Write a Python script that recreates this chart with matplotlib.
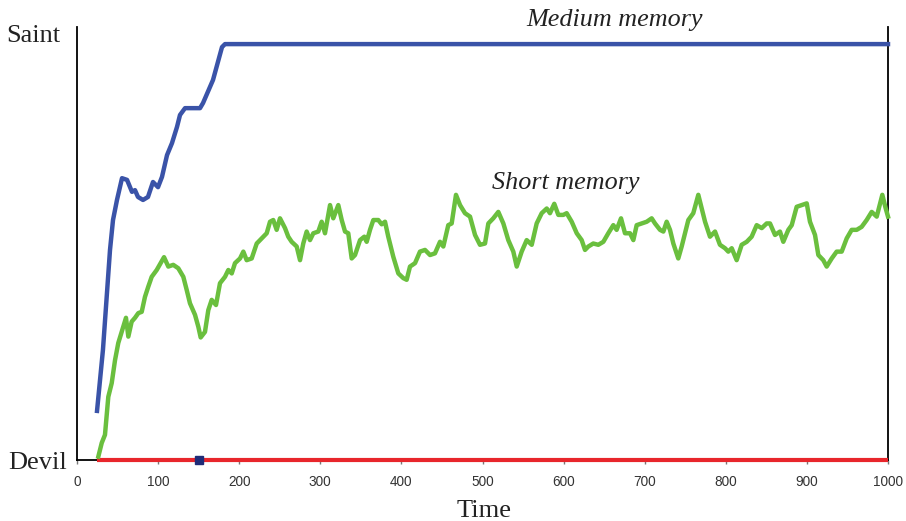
import matplotlib
matplotlib.use("Agg")
import matplotlib.pyplot as plt

# ---- data (y scale: Devil = 0, Saint = 100) ----
medium_t = [24.7, 32, 40.7, 44.4, 49.3, 55.5, 61.7, 67.8, 71.5, 75.2, 81.4, 87.5, 93.7,
            99.9, 104.8, 111, 117.1, 123.3, 127, 133.2, 151.7, 155.4, 167.7, 178.8, 182.5, 1000]
medium_y = [11.5, 25.8, 49.2, 56.2, 60.9, 66.0, 65.6, 62.8, 63.2, 61.6, 60.9, 61.6, 65.1,
            63.9, 66.3, 71.4, 74.2, 78.0, 80.8, 82.4, 82.4, 83.6, 89.0, 96.7, 97.4, 97.4]

short_t = [26.3, 30.5, 34.5, 38.6, 42.8, 46.9, 50.9, 57.1, 60.4, 63.3, 67.4, 71.5, 75.6, 79.8,
           83.8, 87.9, 92.1, 98.3, 107.3, 112.6, 118.7, 124.9, 131.1, 135.3, 139.3, 145.5,
           149.6, 152.5, 157.8, 161.9, 166.1, 171.4, 176.3, 182.5, 186.6, 190.8, 194.8, 201.0,
           205.1, 209.2, 215.4, 221.6, 227.7, 233.9, 238.0, 242.0, 246.2, 250.3, 256.5, 260.5,
           264.7, 270.9, 275.0, 279.0, 283.2, 287.3, 291.4, 297.5, 301.7, 305.8, 312.0, 316.0,
           322.2, 326.4, 330.5, 334.5, 338.7, 342.8, 349.0, 354.3, 357.2, 361.3, 365.4, 371.5,
           375.7, 379.8, 383.8, 390.0, 396.2, 402.3, 406.5, 410.6, 416.8, 422.9, 429.1, 435.3,
           441.4, 447.6, 451.7, 457.8, 462.0, 467.3, 472.3, 478.4, 484.6, 490.8, 496.9, 503.1,
           507.2, 513.3, 519.5, 525.7, 531.8, 538.0, 542.2, 548.3, 554.5, 560.7, 566.8, 573.0,
           579.2, 583.2, 588.5, 593.5, 599.6, 603.8, 610.0, 616.2, 622.3, 626.4, 630.5, 636.6,
           642.8, 649.0, 655.1, 661.3, 665.4, 670.8, 675.7, 681.9, 686.0, 690.1, 696.3, 702.5,
           708.6, 712.7, 718.9, 723.0, 727.1, 731.2, 735.3, 741.4, 745.6, 749.7, 753.8, 759.9,
           766.1, 770.3, 774.4, 780.5, 786.7, 792.8, 799.0, 803.1, 807.3, 813.4, 819.6, 825.8,
           831.9, 838.1, 844.3, 850.4, 854.5, 860.7, 866.8, 870.9, 877.1, 881.3, 887.4, 893.6,
           899.8, 903.8, 910.0, 914.1, 920.2, 924.4, 930.6, 936.7, 942.9, 949.1, 955.2, 961.4,
           967.5, 973.7, 979.9, 986.1, 993.0, 997.2, 1000]
short_y = [0.8, 4.0, 5.9, 14.8, 18.0, 23.4, 27.4, 31.2, 33.3, 28.9, 32.4, 33.3, 34.4, 34.7,
           38.2, 40.6, 42.9, 44.5, 47.5, 45.3, 45.7, 44.9, 42.9, 39.8, 36.7, 34.0,
           31.2, 28.7, 30.0, 35.1, 37.5, 36.3, 41.4, 42.9, 44.5, 43.7, 46.1, 47.2,
           48.8, 46.8, 47.2, 50.7, 51.9, 53.1, 55.8, 56.2, 53.9, 56.6, 54.3, 52.3,
           51.1, 50.0, 46.8, 50.7, 53.5, 51.5, 53.1, 53.5, 55.8, 53.1, 59.7, 56.6,
           59.7, 56.2, 53.5, 53.1, 47.2, 48.0, 51.5, 52.3, 51.1, 53.9, 56.2, 56.2,
           55.2, 55.8, 52.3, 47.6, 43.7, 42.6, 42.2, 45.3, 46.1, 48.8, 49.2, 48.0,
           48.4, 51.1, 50.0, 55.0, 55.4, 62.1, 59.7, 57.8, 57.0, 52.7, 50.4, 50.7,
           55.4, 56.6, 58.1, 55.4, 51.5, 48.8, 45.3, 48.8, 51.5, 50.4, 55.4, 57.8,
           58.9, 57.8, 60.0, 57.4, 57.4, 57.8, 55.8, 53.1, 51.5, 49.2, 50.0, 50.7,
           50.4, 51.1, 53.1, 55.0, 53.9, 56.6, 53.1, 53.1, 51.5, 55.0, 55.4, 55.8,
           56.6, 55.4, 53.9, 53.5, 55.8, 53.9, 50.7, 47.2, 50.0, 53.1, 56.2, 57.8,
           62.1, 58.9, 55.8, 52.3, 53.5, 50.4, 49.6, 48.8, 49.6, 46.8, 50.4, 51.1,
           52.3, 55.0, 54.3, 55.4, 55.4, 52.7, 53.5, 51.1, 53.9, 55.0, 59.3, 59.7,
           60.1, 55.8, 52.7, 48.0, 46.8, 45.3, 47.2, 48.8, 48.8, 51.9, 53.9, 53.9,
           54.6, 56.2, 58.1, 57.0, 62.1, 58.9, 57.0]

long_t = [25, 1000]
long_y = [0, 0]

marker_t = [150]
marker_y = [0]

x_ticks = [0, 100, 200, 300, 400, 500, 600, 700, 800, 900, 1000]
y_ticks = [0, 100]
y_tick_labels = ["Devil", "Saint"]

# ---- figure ----
fig = plt.figure(figsize=(9.06, 5.21), dpi=100)
ax = fig.add_axes([77/906, 61/521, (888-77)/906, (460-27)/521])

ax.plot(long_t, long_y, color="#E8262B", lw=3.0, clip_on=False, zorder=3, solid_capstyle="butt")
ax.plot(medium_t, medium_y, color="#3A53A8", lw=3.2, clip_on=False, zorder=4)
ax.plot(short_t, short_y, color="#6ABF3E", lw=3.2, clip_on=False, zorder=4)
ax.plot(marker_t, marker_y, marker="s", ms=6, color="#1F2C78", ls="none", clip_on=False, zorder=5)

ax.set_xlim(0, 1000)
ax.set_ylim(0, (460-27)/4.27)

ax.spines["top"].set_visible(False)
for s in ["left", "right", "bottom"]:
    ax.spines[s].set_linewidth(1.3)
    ax.spines[s].set_color("black")

ax.set_xticks(x_ticks)
ax.set_xticklabels([str(v) for v in x_ticks], fontfamily="Liberation Sans", fontsize=9.8, color="#333333")
ax.tick_params(axis="x", length=3, width=1, color="#777777", pad=8)

# y "tick" labels drawn as annotations so each can sit at its own offset
ax.set_yticks([])
label_offsets_pt = [7.2, 12.2]
for yv, lab, off in zip(y_ticks, y_tick_labels, label_offsets_pt):
    ax.annotate(lab, xy=(0, yv), xycoords=("axes fraction", "data"),
                xytext=(-off, -2), textcoords="offset points",
                ha="right", va="center", fontfamily="Liberation Serif",
                fontsize=19, color="#222222", annotation_clip=False)

ax.text(663, 103.0, "Medium memory", fontfamily="Liberation Serif", style="italic",
        fontsize=18.8, ha="center", va="center", color="#222222", clip_on=False)
ax.text(603, 64.9, "Short memory", fontfamily="Liberation Serif", style="italic",
        fontsize=18.8, ha="center", va="center", color="#222222", clip_on=False)

fig.text(484/906, 1 - 511/521, "Time", fontfamily="Liberation Serif", fontsize=19,
         ha="center", va="center", color="#222222")

fig.savefig("out.png", dpi=100)
